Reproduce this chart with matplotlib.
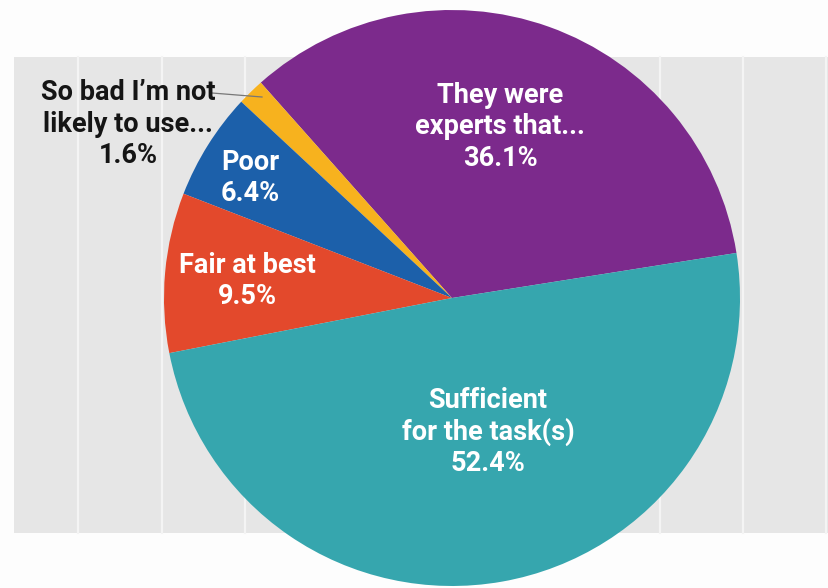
import matplotlib
matplotlib.use("Agg")
import matplotlib.pyplot as plt
from matplotlib.patches import Rectangle

# survey answers, in the order they run counter-clockwise from the right
labels = ["They were\nexperts that...", "So bad I\u2019m not\nlikely to use...", "Poor",
          "Fair at best", "Sufficient\nfor the task(s)"]
values = [36.1, 1.6, 6.4, 9.5, 52.4]
colors = ["#7C2A8C", "#F7B21E", "#1C60AA", "#E3492C", "#36A6AE"]

W, H = 829, 588
FONT = ["Roboto", "DejaVu Sans"]

fig = plt.figure(figsize=(W / 100, H / 100), dpi=100)
fig.patch.set_facecolor("#FDFDFD")
ax = fig.add_axes([0, 0, 1, 1])

# grey band with thin white vertical rules behind the pie
band_top, band_bot = H - 57, H - 533
ax.add_patch(Rectangle((14, band_bot), W - 14, band_top - band_bot,
                       facecolor="#E6E6E6", edgecolor="none", zorder=0))
for i in range(10):
    gx = 78.5 + 83.1 * i
    ax.plot([gx, gx], [band_bot, band_top], color="#F4F4F4", lw=1.6, zorder=0.5)

cx, cy, r = 452, H - 298, 288
wedges, _ = ax.pie(values, colors=colors, startangle=9, center=(cx, cy), radius=r,
                   frame=True, wedgeprops=dict(linewidth=0))

# label text and where it sits (pixel centre of each block)
label_pos = [(500, 127), (128, 124), (250, 178), (247, 281), (488, 432)]
label_color = ["white", "#151515", "white", "white", "white"]
for lab, val, (px, py), c in zip(labels, values, label_pos, label_color):
    ax.text(px, H - py, f"{lab}\n{val}%", ha="center", va="center", color=c,
            fontsize=19.5, fontweight="bold", family=FONT, linespacing=1.2, zorder=5)

# leader line for the small slice
ax.plot([212, 262], [H - 93, H - 97], color="#777777", lw=0.9, zorder=4)

ax.set_xlim(0, W)
ax.set_ylim(0, H)
ax.set_aspect("auto")
ax.axis("off")

fig.savefig("out.png", dpi=100, facecolor=fig.get_facecolor())
